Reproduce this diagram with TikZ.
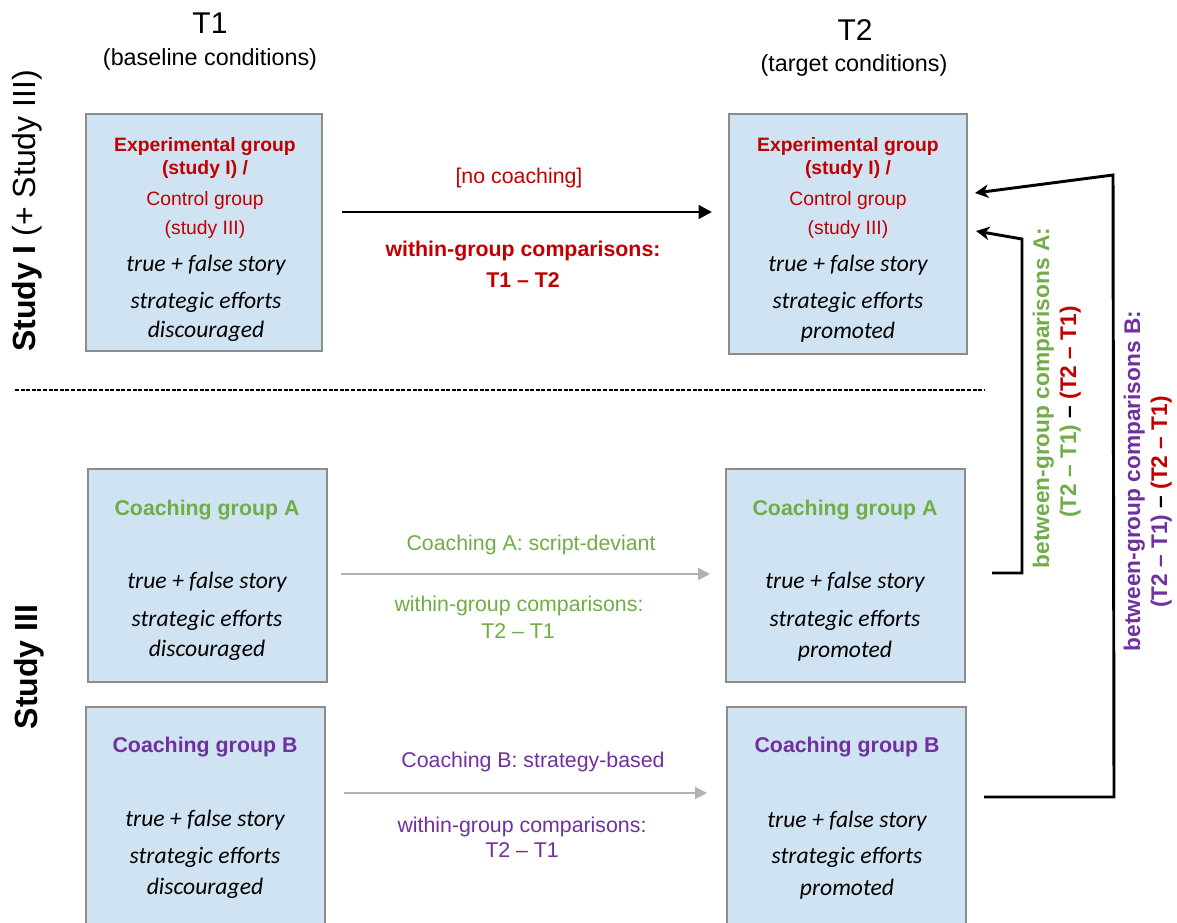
\documentclass[tikz,border=0pt]{standalone}
\usepackage{fontspec}
\setmainfont{Liberation Sans}
\newfontfamily\carl{Carlito}
\usetikzlibrary{arrows.meta,fit}
\definecolor{myred}{RGB}{192,0,0}
\definecolor{mygreen}{RGB}{112,173,71}
\definecolor{mypurple}{RGB}{112,48,160}
\definecolor{boxfill}{RGB}{207,227,242}
\definecolor{boxline}{RGB}{140,140,140}
\definecolor{arrowgray}{RGB}{178,178,178}
\tikzset{
 gbox/.style={draw=boxline, fill=boxfill, line width=1.4pt, inner sep=0pt},
 lbl/.style={anchor=base, inner sep=0pt, font=\fontsize{16}{19}\selectfont},
 lblb/.style={anchor=base, inner sep=0pt, font=\bfseries\fontsize{16}{19}\selectfont},
 redhead/.style={anchor=base, inner sep=0pt, text=myred, font=\bfseries\fontsize{14.5}{17}\selectfont},
 redsub/.style={anchor=base, inner sep=0pt, text=myred, font=\fontsize{14.5}{17}\selectfont},
 itl/.style={anchor=base, inner sep=0pt, font=\carl\itshape\fontsize{17.7}{21}\selectfont},
 grphead/.style={anchor=base, inner sep=0pt, font=\bfseries\fontsize{16}{19}\selectfont},
 ttl/.style={anchor=base, inner sep=0pt, font=\fontsize{22.5}{26}\selectfont},
 subttl/.style={anchor=base, inner sep=0pt, font=\fontsize{17.5}{21}\selectfont},
 study/.style={anchor=base, inner sep=0pt, rotate=90, font=\fontsize{24}{28}\selectfont},
 vlbl/.style={anchor=base, inner sep=0pt, rotate=90, font=\bfseries\fontsize{17}{20}\selectfont},
 blackarrow/.style={line width=2.2pt, -{Triangle[length=10pt,width=10pt]}},
 grayarrow/.style={draw=arrowgray, line width=1.5pt, -{Triangle[length=9pt,width=9pt]}},
 conn/.style={line width=2.2pt, line join=miter, -{Stealth[length=10pt,width=10pt,inset=3pt]}},
}
\begin{document}
\begin{tikzpicture}[x=0.75pt,y=-0.75pt]
\clip (0,0) rectangle (1177,922);
\fill[white] (0,0) rectangle (1177,922);

% titles
\node[ttl] (t1) at (210,33) {T1};
\node[subttl] (t1s) at (210,65) {(baseline conditions)};
\node[ttl] (t2) at (855,40) {T2};
\node[subttl] (t2s) at (854,71) {(target conditions)};

% side labels
\node[study] (s1) at (36,211) {\textbf{Study I} (+ Study III)};
\node[study] (s3) at (37,667) {\textbf{Study III}};

% dashed separator
\coordinate (d1) at (15,390);
\coordinate (d2) at (985,390);
\draw[line width=0.8pt, dash pattern=on 3pt off 1.2pt] (d1) -- (d2);

% boxes
\node[gbox, fit={(86,114) (322,351)}] (tl) {};
\node[gbox, fit={(729,114) (967,354)}] (tr) {};
\node[gbox, fit={(88,469) (327,682)}] (al) {};
\node[gbox, fit={(726,469) (965,682)}] (ar) {};
\node[gbox, fit={(86,707) (325,935)}] (bl) {};
\node[gbox, fit={(727,707) (966,935)}] (br) {};

% top-left box text
\node[redhead] (tl1) at (205,151) {Experimental group};
\node[redhead] (tl2) at (205,174) {(study I) /};
\node[redsub] (tl3) at (205,205) {Control group};
\node[redsub] (tl4) at (205,234) {(study III)};
\node[itl] (tl5) at (206,271) {true + false story};
\node[itl] (tl6) at (206,308) {strategic efforts};
\begin{scope}
\clip (86,114) rectangle (322,340);
\node[itl] (tl7) at (206,337) {discouraged};
\end{scope}

% top-right box text
\node[redhead] (tr1) at (848,151) {Experimental group};
\node[redhead] (tr2) at (848,174) {(study I) /};
\node[redsub] (tr3) at (848,205) {Control group};
\node[redsub] (tr4) at (848,234) {(study III)};
\node[itl] (tr5) at (848,271) {true + false story};
\node[itl] (tr6) at (848,308) {strategic efforts};
\node[itl] (tr7) at (848,338) {promoted};

% coaching A boxes
\node[grphead, text=mygreen] (al1) at (207,515) {Coaching group A};
\node[itl] (al2) at (207,588) {true + false story};
\node[itl] (al3) at (207,626) {strategic efforts};
\node[itl] (al4) at (207,656) {discouraged};
\node[grphead, text=mygreen] (ar1) at (845,515) {Coaching group A};
\node[itl] (ar2) at (845,588) {true + false story};
\node[itl] (ar3) at (845,626) {strategic efforts};
\node[itl] (ar4) at (845,657) {promoted};

% coaching B boxes
\node[grphead, text=mypurple] (bl1) at (205,752) {Coaching group B};
\node[itl] (bl2) at (205,826) {true + false story};
\node[itl] (bl3) at (205,863) {strategic efforts};
\node[itl] (bl4) at (205,894) {discouraged};
\node[grphead, text=mypurple] (br1) at (847,752) {Coaching group B};
\node[itl] (br2) at (847,827) {true + false story};
\node[itl] (br3) at (847,863) {strategic efforts};
\node[itl] (br4) at (847,895) {promoted};

% top middle
\node[lbl, text=myred] (nc) at (519,183) {[no coaching]};
\node[lblb, text=myred] (wg1) at (523,256) {within-group comparisons:};
\node[lblb, text=myred] (wg1b) at (523,287) {T1 – T2};
\coordinate (a1s) at (342,212);
\coordinate (a1e) at (712,212);
\draw[blackarrow] (a1s) -- (a1e);

% middle A
\node[lbl, text=mygreen] (ca) at (531,550) {Coaching A: script-deviant};
\node[lbl, text=mygreen] (wga) at (519,611) {within-group comparisons:};
\node[lbl, text=mygreen] (wgab) at (518,638) {T2 – T1};
\coordinate (a2s) at (341,574);
\coordinate (a2e) at (710,574);
\draw[grayarrow] (a2s) -- (a2e);

% middle B
\node[lbl, text=mypurple] (cb) at (533,767) {Coaching B: strategy-based};
\node[lbl, text=mypurple] (wgb) at (522,832) {within-group comparisons:};
\node[lbl, text=mypurple] (wgbb) at (522,857) {T2 – T1};
\coordinate (a3s) at (344,793);
\coordinate (a3e) at (707,793);
\draw[grayarrow] (a3s) -- (a3e);

% between-group connectors
\coordinate (ca1) at (992,573);
\coordinate (ca2) at (1022,573);
\coordinate (ca3) at (1022,239);
\coordinate (ca4) at (976,231);
\draw[conn] (ca1) -- (ca2) -- (ca3) -- (ca4);
\coordinate (cb1) at (984,797);
\coordinate (cb2) at (1114,797);
\coordinate (cb3) at (1113,175);
\coordinate (cb4) at (975,193);
\draw[conn] (cb1) -- (cb2) -- (cb3) -- (cb4);

% vertical labels
\node[vlbl, text=mygreen] (va1) at (1049,398) {between-group comparisons A:};
\node[vlbl] (va2) at (1076,412) {{\color{mygreen}(T2 – T1)} – {\color{myred}(T2 – T1)}};
\node[vlbl, text=mypurple] (vb1) at (1140,481) {between-group comparisons B:};
\node[vlbl] (vb2) at (1167,502) {{\color{mypurple}(T2 – T1)} – {\color{myred}(T2 – T1)}};
\end{tikzpicture}
\end{document}
